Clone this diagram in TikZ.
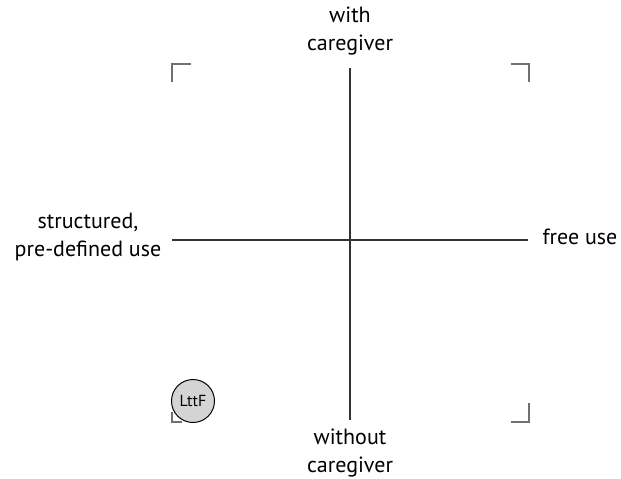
\documentclass[tikz,border=0pt]{standalone}
\usepackage{fontspec}
\setmainfont{PT Sans}
\usetikzlibrary{positioning}
\definecolor{axisgrey}{HTML}{333333}
\definecolor{markgrey}{HTML}{707070}
\definecolor{dotfill}{HTML}{D4D4D4}

\begin{document}
\begin{tikzpicture}[x=1pt, y=-1pt,
  axis/.style={line width=1.1pt, axisgrey},
  corner/.style={line width=1.3pt, markgrey},
  lbl/.style={font=\fontsize{22}{28}\selectfont, align=center, inner sep=0pt}]
  \useasboundingbox (0,0) rectangle (621,479);
  % axes
  \coordinate (N) at (350,68);
  \coordinate (S) at (350,420);
  \coordinate (W) at (172,240);
  \coordinate (E) at (528,240);
  \draw[axis] (N) -- (S);
  \draw[axis] (W) -- (E);
  % corner marks
  \coordinate (NW) at (172,64);
  \coordinate (NE) at (529,64);
  \coordinate (SE) at (529,422);
  \coordinate (SW) at (172,422);
  \draw[corner] ([yshift=-18]NW) -- (NW) -- ([xshift=19]NW);
  \draw[corner] ([xshift=-18]NE) -- (NE) -- ([yshift=-18]NE);
  \draw[corner] ([yshift=19]SE) -- (SE) -- ([xshift=-18]SE);
  \draw[corner] ([yshift=10]SW) -- (SW) -- ([xshift=10]SW);
  % labels
  \node[lbl] (with) at (350,31) {with\\caregiver};
  \node[lbl] (without) at (350,453) {without\\caregiver};
  \node[lbl] (free) at (580,237) {free use};
  \node[lbl] (struct) at (88,237) {structured,\\pre-defined use};
  % LttF
  \node[circle, draw=black, line width=1pt, fill=dotfill, minimum size=43pt,
        inner sep=0pt, font=\fontsize{16}{18}\selectfont] (lttf) at (193,401) {LttF};
\end{tikzpicture}
\end{document}
